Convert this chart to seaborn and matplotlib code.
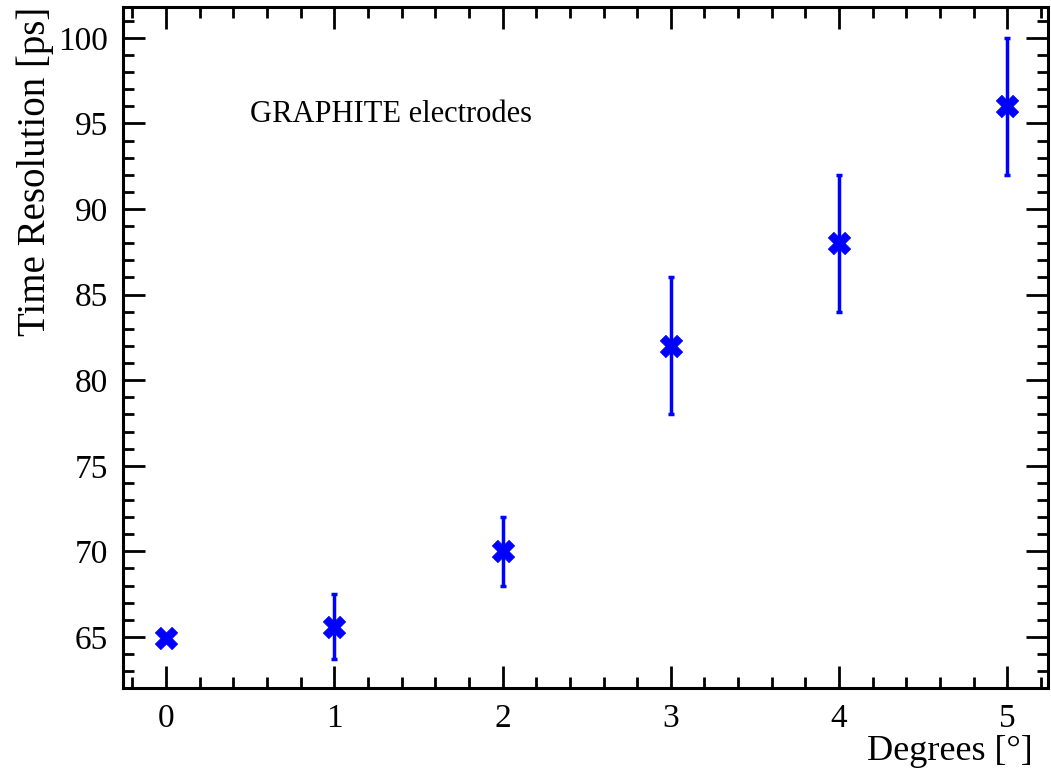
import matplotlib
matplotlib.use("Agg")
import matplotlib.pyplot as plt
import seaborn as sns
from matplotlib.ticker import MultipleLocator

degrees = [0, 1, 2, 3, 4, 5]
time_resolution = [64.95, 65.6, 70.0, 82.0, 88.0, 96.0]
resolution_err = [0.0, 1.9, 2.0, 4.0, 4.0, 4.0]

sns.set_style("ticks", {"axes.edgecolor": "black", "text.color": "black",
                        "axes.labelcolor": "black", "xtick.color": "black",
                        "ytick.color": "black"})
plt.rcParams["font.family"] = ["Liberation Serif", "DejaVu Serif"]

fig, ax = plt.subplots(figsize=(10.51, 7.76), dpi=100)
fig.subplots_adjust(left=0.117, right=0.997, top=0.991, bottom=0.113)

ax.errorbar(degrees, time_resolution, yerr=resolution_err, fmt="none",
            ecolor="#0000ff", elinewidth=2.5, capsize=2.5, capthick=2.5, zorder=2)
sns.scatterplot(x=degrees, y=time_resolution, marker="X", s=260,
                color="#0000ff", edgecolor="#0000ff", linewidth=0.5, ax=ax, zorder=3)

ax.set_xlim(-0.255, 5.24)
ax.set_ylim(62, 101.8)
ax.xaxis.set_major_locator(MultipleLocator(1))
ax.xaxis.set_minor_locator(MultipleLocator(0.2))
ax.yaxis.set_major_locator(MultipleLocator(5))
ax.yaxis.set_minor_locator(MultipleLocator(1))
ax.tick_params(which="both", direction="in", top=True, right=True, width=2)
ax.tick_params(which="major", length=16, labelsize=24, pad=11)
ax.tick_params(which="minor", length=8)
for sp in ax.spines.values():
    sp.set_linewidth(2.2)

ax.set_xlabel("Degrees [°]", fontsize=26, loc="right")
ax.xaxis.set_label_coords(0.984, -0.068)
ax.set_ylabel("Time Resolution [ps]", fontsize=28, loc="top")
ax.yaxis.set_label_coords(-0.075, 1.0)

ax.text(0.5, 95.5, "GRAPHITE electrodes", fontsize=22, va="center")

fig.savefig("out.png", dpi=100)
